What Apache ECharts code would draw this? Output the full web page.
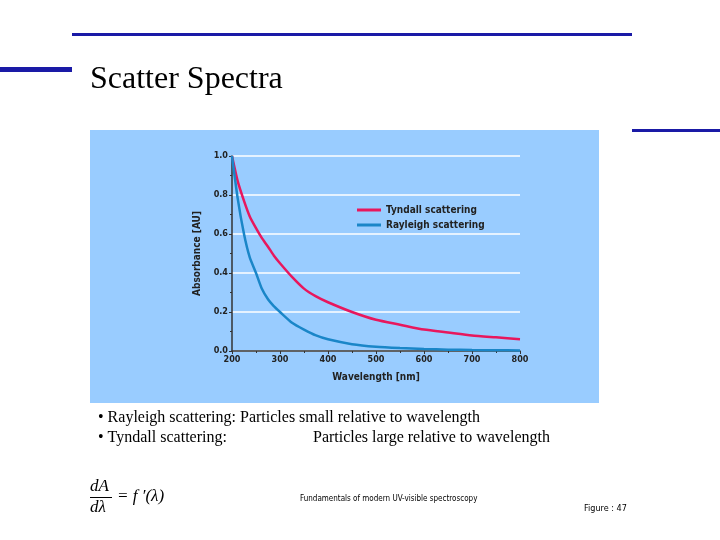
<!DOCTYPE html>
<html>
<head>
<meta charset="UTF-8">
<script src="https://cdn.jsdelivr.net/npm/echarts@6/dist/echarts.min.js"></script>
<style>
body{margin:0;background:#fff;}
#main{width:720px;height:540px;}
</style>
</head>
<body>
<div id="main"></div>
<script>
var wavelengths = [200, 212, 225, 237, 250, 262, 275, 287, 300, 325, 350, 375, 400, 450, 500, 550, 600, 650, 700, 750, 800];
var tyndall = [1.0, 0.87, 0.77, 0.69, 0.63, 0.58, 0.535, 0.49, 0.45, 0.38, 0.32, 0.28, 0.25, 0.20, 0.16, 0.135, 0.11, 0.095, 0.08, 0.07, 0.06];
var rayleigh = [1.0, 0.78, 0.60, 0.48, 0.40, 0.32, 0.265, 0.23, 0.20, 0.145, 0.11, 0.08, 0.06, 0.035, 0.022, 0.015, 0.01, 0.007, 0.005, 0.004, 0.003];
var yTicks = ['0.0', '0.2', '0.4', '0.6', '0.8', '1.0'];
var smallFont = 'DejaVu Sans Condensed';

function pairs(ys) {
	return wavelengths.map(function (x, i) { return [x, ys[i]]; });
}

var myChart = echarts.init(document.getElementById('main'));
var option = {
	backgroundColor: '#fff',
	animation: false,
	graphic: [
		{ type: 'rect', shape: { x: 72, y: 33, width: 560, height: 3 }, style: { fill: '#1a1aa6' } },
		{ type: 'rect', shape: { x: 0, y: 67, width: 72, height: 5 }, style: { fill: '#1a1aa6' } },
		{ type: 'rect', shape: { x: 632, y: 129, width: 88, height: 3 }, style: { fill: '#1a1aa6' } },
		{ type: 'text', left: 90, top: 64, style: { text: 'Scatter Spectra', fontFamily: 'Liberation Serif', fontSize: 32, fill: '#000' } },
		{ type: 'rect', z: -10, shape: { x: 90, y: 130, width: 509, height: 273 }, style: { fill: '#99ccff' } },
		{ type: 'text', left: 98, top: 410, style: { text: '• Rayleigh scattering: Particles small relative to wavelength', fontFamily: 'Liberation Serif', fontSize: 16, fill: '#000' } },
		{ type: 'text', left: 98, top: 430, style: { text: '• Tyndall scattering:', fontFamily: 'Liberation Serif', fontSize: 16, fill: '#000' } },
		{ type: 'text', left: 313, top: 430, style: { text: 'Particles large relative to wavelength', fontFamily: 'Liberation Serif', fontSize: 16, fill: '#000' } },
		{ type: 'text', left: 90, top: 478, style: { text: 'dA', fontFamily: 'Liberation Serif', fontStyle: 'italic', fontSize: 17, fill: '#000' } },
		{ type: 'rect', shape: { x: 90, y: 497, width: 22, height: 1 }, style: { fill: '#000' } },
		{ type: 'text', left: 90, top: 499, style: { text: 'dλ', fontFamily: 'Liberation Serif', fontStyle: 'italic', fontSize: 17, fill: '#000' } },
		{ type: 'text', left: 117, top: 488, style: { text: '= f ′(λ)', fontFamily: 'Liberation Serif', fontStyle: 'italic', fontSize: 17, fill: '#000' } },
		{ type: 'text', left: 300, top: 495, style: { text: 'Fundamentals of modern UV-visible spectroscopy', fontFamily: smallFont, fontSize: 8, fill: '#000' } },
		{ type: 'text', left: 584, top: 504, style: { text: 'Figure : 47', fontFamily: smallFont, fontSize: 9, fill: '#000' } }
	],
	legend: {
		orient: 'vertical', left: 352, top: 200, itemWidth: 24, itemHeight: 3, itemGap: 5,
		icon: 'rect',
		textStyle: { fontSize: 10, fontWeight: 'bold', fontFamily: smallFont, color: '#222' },
		data: ['Tyndall scattering', 'Rayleigh scattering']
	},
	grid: { left: 232, right: 200, top: 156, bottom: 189 },
	xAxis: {
		type: 'value', min: 200, max: 800, interval: 100,
		name: 'Wavelength [nm]', nameLocation: 'middle', nameGap: 21,
		nameTextStyle: { fontSize: 10, fontWeight: 'bold', fontFamily: smallFont, color: '#222' },
		axisLine: { lineStyle: { color: '#333', width: 1.5 } },
		axisTick: { length: 3, lineStyle: { color: '#333' } },
		minorTick: { show: true, splitNumber: 2, length: 2 },
		axisLabel: { fontSize: 9, fontWeight: 'bold', fontFamily: smallFont, color: '#222', margin: 4 },
		splitLine: { show: false }
	},
	yAxis: {
		type: 'value', min: 0, max: 1, interval: 0.2,
		name: 'Absorbance [AU]', nameLocation: 'middle', nameGap: 30,
		nameTextStyle: { fontSize: 10, fontWeight: 'bold', fontFamily: smallFont, color: '#222' },
		axisLine: { show: true, lineStyle: { color: '#333', width: 1.5 } },
		axisTick: { show: true, length: 3, lineStyle: { color: '#333' } },
		minorTick: { show: true, splitNumber: 2, length: 2 },
		axisLabel: { fontSize: 9, fontWeight: 'bold', fontFamily: smallFont, color: '#222', margin: 4,
			formatter: function (v) { return yTicks[Math.round(v * 5)]; } },
		splitLine: { show: true, lineStyle: { color: '#ffffff', width: 1.5 } }
	},
	series: [
		{ name: 'Tyndall scattering', type: 'line', smooth: 0.2, showSymbol: false, color: '#e8175d',
			lineStyle: { width: 2.5 }, data: pairs(tyndall) },
		{ name: 'Rayleigh scattering', type: 'line', smooth: 0.2, showSymbol: false, color: '#1a86c8',
			lineStyle: { width: 2.5 }, data: pairs(rayleigh) }
	]
};
myChart.setOption(option);
</script>
</body>
</html>
